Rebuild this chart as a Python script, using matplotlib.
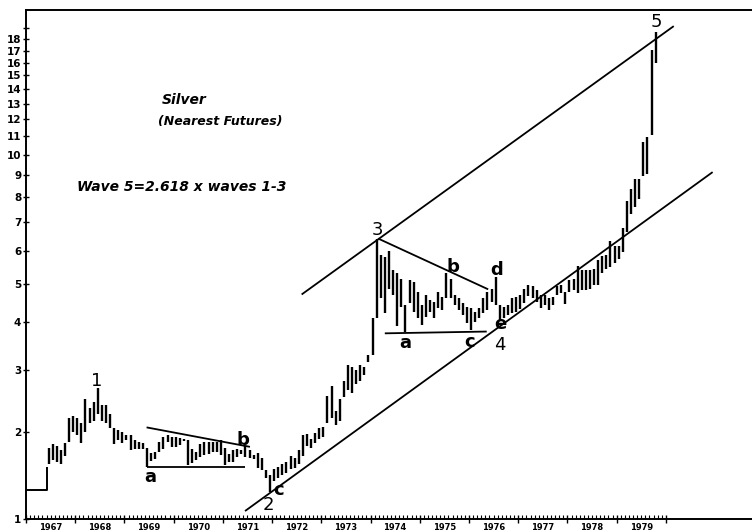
import numpy as np
import matplotlib
matplotlib.use("Agg")
import matplotlib.pyplot as plt
from matplotlib.transforms import blended_transform_factory

# ---------------- data (monthly high / low, nearest silver futures) ----------------
first_bar = 1967 + 5 / 12.0      # first monthly bar: June 1967
fixed_price = 1.29               # Treasury-pegged price before the free market
fixed_end = 1967.42

highs = [
    # 1967 Jun-Dec
    1.78, 1.83, 1.80, 1.75, 1.84, 2.20, 2.22,
    # 1968
    2.20, 2.12, 2.50, 2.35, 2.45, 2.67, 2.40, 2.40, 2.25, 2.05, 2.02, 2.00,
    # 1969
    1.96, 1.95, 1.88, 1.86, 1.85, 1.78, 1.71, 1.73, 1.86, 1.93, 1.95, 1.92,
    # 1970
    1.93, 1.91, 1.90, 1.88, 1.77, 1.73, 1.83, 1.86, 1.86, 1.86, 1.86, 1.88,
    # 1971
    1.78, 1.70, 1.76, 1.77, 1.76, 1.80, 1.75, 1.69, 1.72, 1.65, 1.51, 1.45,
    # 1972
    1.52, 1.55, 1.58, 1.60, 1.68, 1.65, 1.75, 1.95, 1.97, 1.90, 1.98, 2.05,
    # 1973
    2.07, 2.55, 2.72, 2.30, 2.50, 2.80, 3.10, 3.05, 3.00, 3.10, 3.05, 3.30,
    # 1974
    4.10, 6.41, 5.85, 5.80, 6.00, 5.38, 5.30, 5.14, 4.42, 5.09, 5.04, 4.77,
    # 1975
    4.42, 4.68, 4.55, 4.51, 4.77, 4.64, 5.30, 5.14, 4.68, 4.60, 4.47, 4.38,
    # 1976
    4.34, 4.26, 4.34, 4.60, 4.77, 4.86, 5.19, 4.42, 4.38, 4.42, 4.60, 4.64,
    # 1977
    4.68, 4.85, 4.95, 4.92, 4.81, 4.68, 4.68, 4.60, 4.64, 4.92, 4.97, 4.78,
    # 1978
    5.09, 5.14, 5.53, 5.38, 5.38, 5.38, 5.44, 5.69, 5.82, 5.85, 6.34, 6.17,
    # 1979 Jan-Oct
    6.17, 6.78, 7.84, 8.36, 8.80, 8.81, 10.67, 10.95, 17.05, 18.65,
]
lows = [
    # 1967 Jun-Dec
    1.58, 1.63, 1.60, 1.58, 1.68, 1.86, 2.00,
    # 1968
    1.95, 1.85, 2.00, 2.12, 2.15, 2.25, 2.15, 2.12, 2.05, 1.83, 1.88, 1.85,
    # 1969
    1.88, 1.76, 1.77, 1.77, 1.77, 1.55, 1.62, 1.64, 1.73, 1.77, 1.86, 1.79,
    # 1970
    1.79, 1.82, 1.87, 1.57, 1.59, 1.63, 1.67, 1.69, 1.70, 1.73, 1.73, 1.69,
    # 1971
    1.57, 1.60, 1.61, 1.66, 1.70, 1.67, 1.65, 1.64, 1.53, 1.51, 1.42, 1.27,
    # 1972
    1.38, 1.42, 1.45, 1.47, 1.52, 1.53, 1.58, 1.68, 1.80, 1.78, 1.85, 1.90,
    # 1973
    1.93, 2.12, 2.20, 2.10, 2.15, 2.52, 2.65, 2.60, 2.75, 2.80, 2.90, 3.15,
    # 1974
    3.30, 4.10, 4.60, 4.22, 4.86, 4.68, 3.91, 4.38, 3.79, 4.47, 4.26, 4.10,
    # 1975
    3.95, 4.14, 4.26, 4.10, 4.34, 4.30, 4.60, 4.60, 4.42, 4.30, 4.18, 3.99,
    # 1976
    3.83, 4.02, 4.10, 4.22, 4.30, 4.51, 4.42, 4.05, 4.10, 4.18, 4.22, 4.26,
    # 1977
    4.32, 4.48, 4.65, 4.60, 4.51, 4.34, 4.42, 4.30, 4.42, 4.68, 4.73, 4.45,
    # 1978
    4.78, 4.81, 4.73, 4.81, 4.81, 4.86, 4.95, 4.97, 5.30, 5.44, 5.50, 5.60,
    # 1979 Jan-Oct
    5.75, 5.97, 6.66, 7.33, 7.60, 7.93, 8.95, 9.05, 11.10, 16.00,
]

# trend / channel lines (date, price)
upper_channel_x = [1972.60, 1980.16]
upper_channel_y = [4.70, 19.2]
lower_channel_x = [1971.45, 1980.95]
lower_channel_y = [1.075, 9.14]
w4_top_x = [1974.16, 1976.39]
w4_top_y = [6.41, 4.84]
w4_bottom_x = [1974.29, 1976.36]
w4_bottom_y = [3.75, 3.79]
w2_top_x = [1969.45, 1971.55]
w2_top_y = [2.06, 1.795]
w2_bottom_x = [1969.45, 1971.45]
w2_bottom_y = [1.55, 1.55]

# wave labels
label_text = ["1", "a", "b", "2", "c", "3", "a", "b", "c", "d", "e", "4", "5"]
label_x = [1968.44, 1969.52, 1971.41, 1971.92, 1972.14, 1974.15, 1974.70,
           1975.67, 1976.02, 1976.57, 1976.63, 1976.63, 1979.80]
label_y = [2.80, 1.43, 1.885, 1.134, 1.287, 6.72, 3.54, 5.49, 3.56, 5.39,
           3.96, 3.50, 19.58]

year_labels = list(range(1967, 1980))
price_ticks = list(range(1, 20))
price_tick_labels = [str(v) for v in range(1, 19)] + [""]

# ---------------- figure ----------------
W, H = 752, 531
fig = plt.figure(figsize=(W / 100, H / 100), dpi=100)
fig.patch.set_facecolor("white")
ax = fig.add_axes([26 / W, (H - 519) / H, (W - 26) / W, (519 - 10) / H])

OFF = 0.95
def fwd(v):
    v = np.asarray(v, dtype=float)
    return np.log10(np.maximum(v + OFF, 1e-6))
def inv(u):
    return 10 ** np.asarray(u, dtype=float) - OFF
ax.set_yscale("function", functions=(fwd, inv))

ax.set_xlim(1967.0, 1981.75)
ax.set_ylim(1.0, 20.8)

# fixed-price segment and step up to the free market
ax.plot([1967.0, fixed_end, fixed_end], [fixed_price, fixed_price, 1.55],
        color="black", lw=1.4, solid_capstyle="butt")

# monthly high-low bars
n = len(highs)
bar_x = first_bar + (np.arange(n) + 0.5) / 12.0
ax.vlines(bar_x, lows, highs, color="black", lw=1.7)

line_kw = dict(color="black", lw=1.3, solid_capstyle="butt")
for xs, ys in [(upper_channel_x, upper_channel_y), (lower_channel_x, lower_channel_y),
               (w4_top_x, w4_top_y), (w4_bottom_x, w4_bottom_y),
               (w2_top_x, w2_top_y), (w2_bottom_x, w2_bottom_y)]:
    ax.plot(xs, ys, **line_kw)

for t, x, y in zip(label_text, label_x, label_y):
    digit = t.isdigit()
    ax.text(x, y, t, ha="center", va="center",
            fontsize=13, fontweight="normal" if digit else "bold",
            family="DejaVu Sans", color="black")

# spines
for s in ["top", "left", "bottom"]:
    ax.spines[s].set_linewidth(1.4)
ax.spines["right"].set_visible(False)

# y ticks
ax.set_yticks(price_ticks)
ax.set_yticklabels(price_tick_labels)
ax.yaxis.set_minor_locator(matplotlib.ticker.NullLocator())
ax.tick_params(axis="y", direction="inout", length=5, width=1, pad=1,
               labelsize=7.5)
for lab in ax.get_yticklabels():
    lab.set_fontweight("bold")

# x ticks: year boundaries (major), months (minor)
ax.set_xticks([float(y) for y in range(1967, 1981)])
ax.set_xticklabels([])
ax.set_xticks([1967 + m / 12.0 for m in range(0, 13 * 12) if m % 12], minor=True)
ax.tick_params(axis="x", which="major", direction="inout", length=6, width=1)
ax.tick_params(axis="x", which="minor", direction="in", length=3, width=0.8)

trans = blended_transform_factory(ax.transData, ax.transAxes)
for yr in year_labels:
    ax.text(yr + 0.5, -0.008, str(yr), transform=trans, ha="center", va="top",
            fontsize=6, fontweight="bold", clip_on=False)

# titles
title_font = dict(family="DejaVu Sans", style="italic", fontweight="bold",
                  ha="left", va="center")
fig.text(162 / W, 1 - 100 / H, "Silver", fontsize=10, **title_font)
fig.text(158 / W, 1 - 122 / H, "(Nearest Futures)", fontsize=9, **title_font)
fig.text(77 / W, 1 - 187 / H, "Wave 5=2.618 x waves 1-3", fontsize=10,
         **title_font)

fig.savefig("out.png", dpi=100, facecolor="white")
